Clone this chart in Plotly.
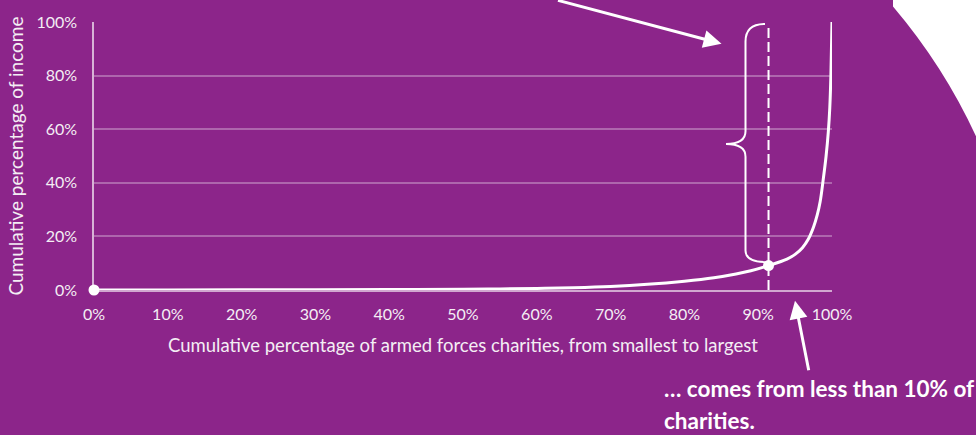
import plotly.graph_objects as go

# ---------------- data ----------------
cum_share_charities = [0, 10, 20, 30, 40, 50, 55, 60, 65, 70, 75, 80, 84, 87, 89, 91.4,
                       93.9, 95.0, 96.0, 96.8, 97.5, 98.0, 98.4, 98.8, 99.2, 99.5, 99.7, 99.85, 100]
cum_share_income = [0, 0.02, 0.05, 0.1, 0.18, 0.3, 0.4, 0.6, 0.85, 1.3, 2.1, 3.3, 4.6, 6.0, 7.2, 9.1,
                    11.5, 13.3, 15.8, 19.0, 23.5, 28, 33, 41, 50, 59, 68, 80, 100]
highlight_x = 91.4
highlight_y = 9.1
x_tick_vals = [0, 10, 20, 30, 40, 50, 60, 70, 80, 90, 100]
x_tick_text = ["0%", "10%", "20%", "30%", "40%", "50%", "60%", "70%", "80%", "90%", "100%"]
y_tick_vals = [0, 20, 40, 60, 80, 100]
y_tick_text = ["0%", "20%", "40%", "60%", "80%", "100%"]
x_title = "Cumulative percentage of armed forces charities, from smallest to largest"
y_title = "Cumulative percentage of income"
note_line1 = "… comes from less than 10% of"
note_line2 = "charities."

# ---------------- style / geometry ----------------
W, H = 976, 435
ML, MR, MT, MB = 94, 144, 16, 144.5
PW, PH = W - ML - MR, H - MT - MB
PURPLE = "#8C258A"
FONT = "Lato"
TXT = "#F4EEF4"


def px(x):
    return (x - ML) / PW


def py(y):
    return (H - MB - y) / PH


def dx(x):
    return (x - ML) / PW * 100


def dy(y):
    return (H - MB - y) / PH * 100


fig = go.Figure()

# main Lorenz curve
fig.add_trace(go.Scatter(
    x=cum_share_charities, y=cum_share_income, mode="lines",
    line=dict(color="white", width=3, shape="spline", smoothing=1.0),
    cliponaxis=False, hoverinfo="skip", showlegend=False))

# dashed marker line at highlight
fig.add_trace(go.Scatter(
    x=[highlight_x, highlight_x], y=[0, 99.3], mode="lines",
    line=dict(color="white", width=2, dash="10px,4px"),
    cliponaxis=False, hoverinfo="skip", showlegend=False))

# dots
fig.add_trace(go.Scatter(
    x=[cum_share_charities[0], highlight_x], y=[cum_share_income[0], highlight_y],
    mode="markers", marker=dict(color="white", size=11),
    cliponaxis=False, hoverinfo="skip", showlegend=False))

# white page corner (outside the purple disc)
corner = (f"M {px(893)},{py(0)} Q {px(943.9)},{py(61.4)} {px(976)},{py(133)} "
          f"L {px(1000)},{py(133)} L {px(1000)},{py(-20)} L {px(893)},{py(-20)} Z")
shapes = [dict(type="path", xref="paper", yref="paper", path=corner,
               fillcolor="white", line=dict(width=0), layer="below")]

# curly brace
brace = (f"M {dx(765)},{dy(18)} Q {dx(745.5)},{dy(18)} {dx(745.5)},{dy(36)} "
         f"L {dx(745.5)},{dy(128)} Q {dx(745.5)},{dy(141)} {dx(726)},{dy(141)} "
         f"Q {dx(745.5)},{dy(141)} {dx(745.5)},{dy(154)} "
         f"L {dx(745.5)},{dy(250)} Q {dx(745.5)},{dy(262)} {dx(767)},{dy(262)}")
shapes.append(dict(type="path", xref="x", yref="y", path=brace,
                   line=dict(color="white", width=2)))

annotations = [
    dict(xref="paper", yref="paper", x=px(721.5), y=py(38.3), text="", showarrow=True,
         ax=-165, ay=-44, arrowhead=2, arrowsize=1.2, arrowwidth=3, arrowcolor="white",
         standoff=0),
    dict(xref="paper", yref="paper", x=px(795), y=py(301.5), text="", showarrow=True,
         ax=14, ay=71, arrowhead=2, arrowsize=1.2, arrowwidth=3, arrowcolor="white",
         standoff=0),
    dict(xref="paper", yref="paper", x=px(662), y=py(391), text=f"<b>{note_line1}</b>",
         showarrow=False, xanchor="left", yanchor="middle",
         font=dict(family=FONT, size=22.5, color="white")),
    dict(xref="paper", yref="paper", x=px(662), y=py(424), text=f"<b>{note_line2}</b>",
         showarrow=False, xanchor="left", yanchor="middle",
         font=dict(family=FONT, size=22.5, color="white")),
]

fig.update_layout(
    width=W, height=H,
    margin=dict(l=ML, r=MR, t=MT, b=MB, pad=0),
    paper_bgcolor=PURPLE, plot_bgcolor=PURPLE,
    shapes=shapes, annotations=annotations,
    showlegend=False,
    font=dict(family=FONT, color=TXT),
    xaxis=dict(range=[0, 100], tickvals=x_tick_vals, ticktext=x_tick_text,
               showgrid=False, zeroline=False, showline=True,
               linecolor="rgba(255,255,255,0.6)", linewidth=1.5,
               ticks="", ticklabelstandoff=9,
               tickfont=dict(family=FONT, size=16, color=TXT),
               title=dict(text=x_title, font=dict(family=FONT, size=18.5, color=TXT), standoff=17),
               fixedrange=True),
    yaxis=dict(range=[0, 100], tickvals=y_tick_vals, ticktext=y_tick_text,
               showgrid=True, gridcolor="rgba(255,255,255,0.3)", gridwidth=1.5,
               zeroline=False, showline=True,
               linecolor="rgba(255,255,255,0.65)", linewidth=1.5,
               ticks="", ticklabelstandoff=12,
               tickfont=dict(family=FONT, size=16, color=TXT),
               title=dict(text=y_title, font=dict(family=FONT, size=19, color=TXT), standoff=8),
               fixedrange=True),
)

fig.write_html("out.html", config={"displayModeBar": False},
               post_script="document.body.style.margin='0';document.body.style.padding='0';")
